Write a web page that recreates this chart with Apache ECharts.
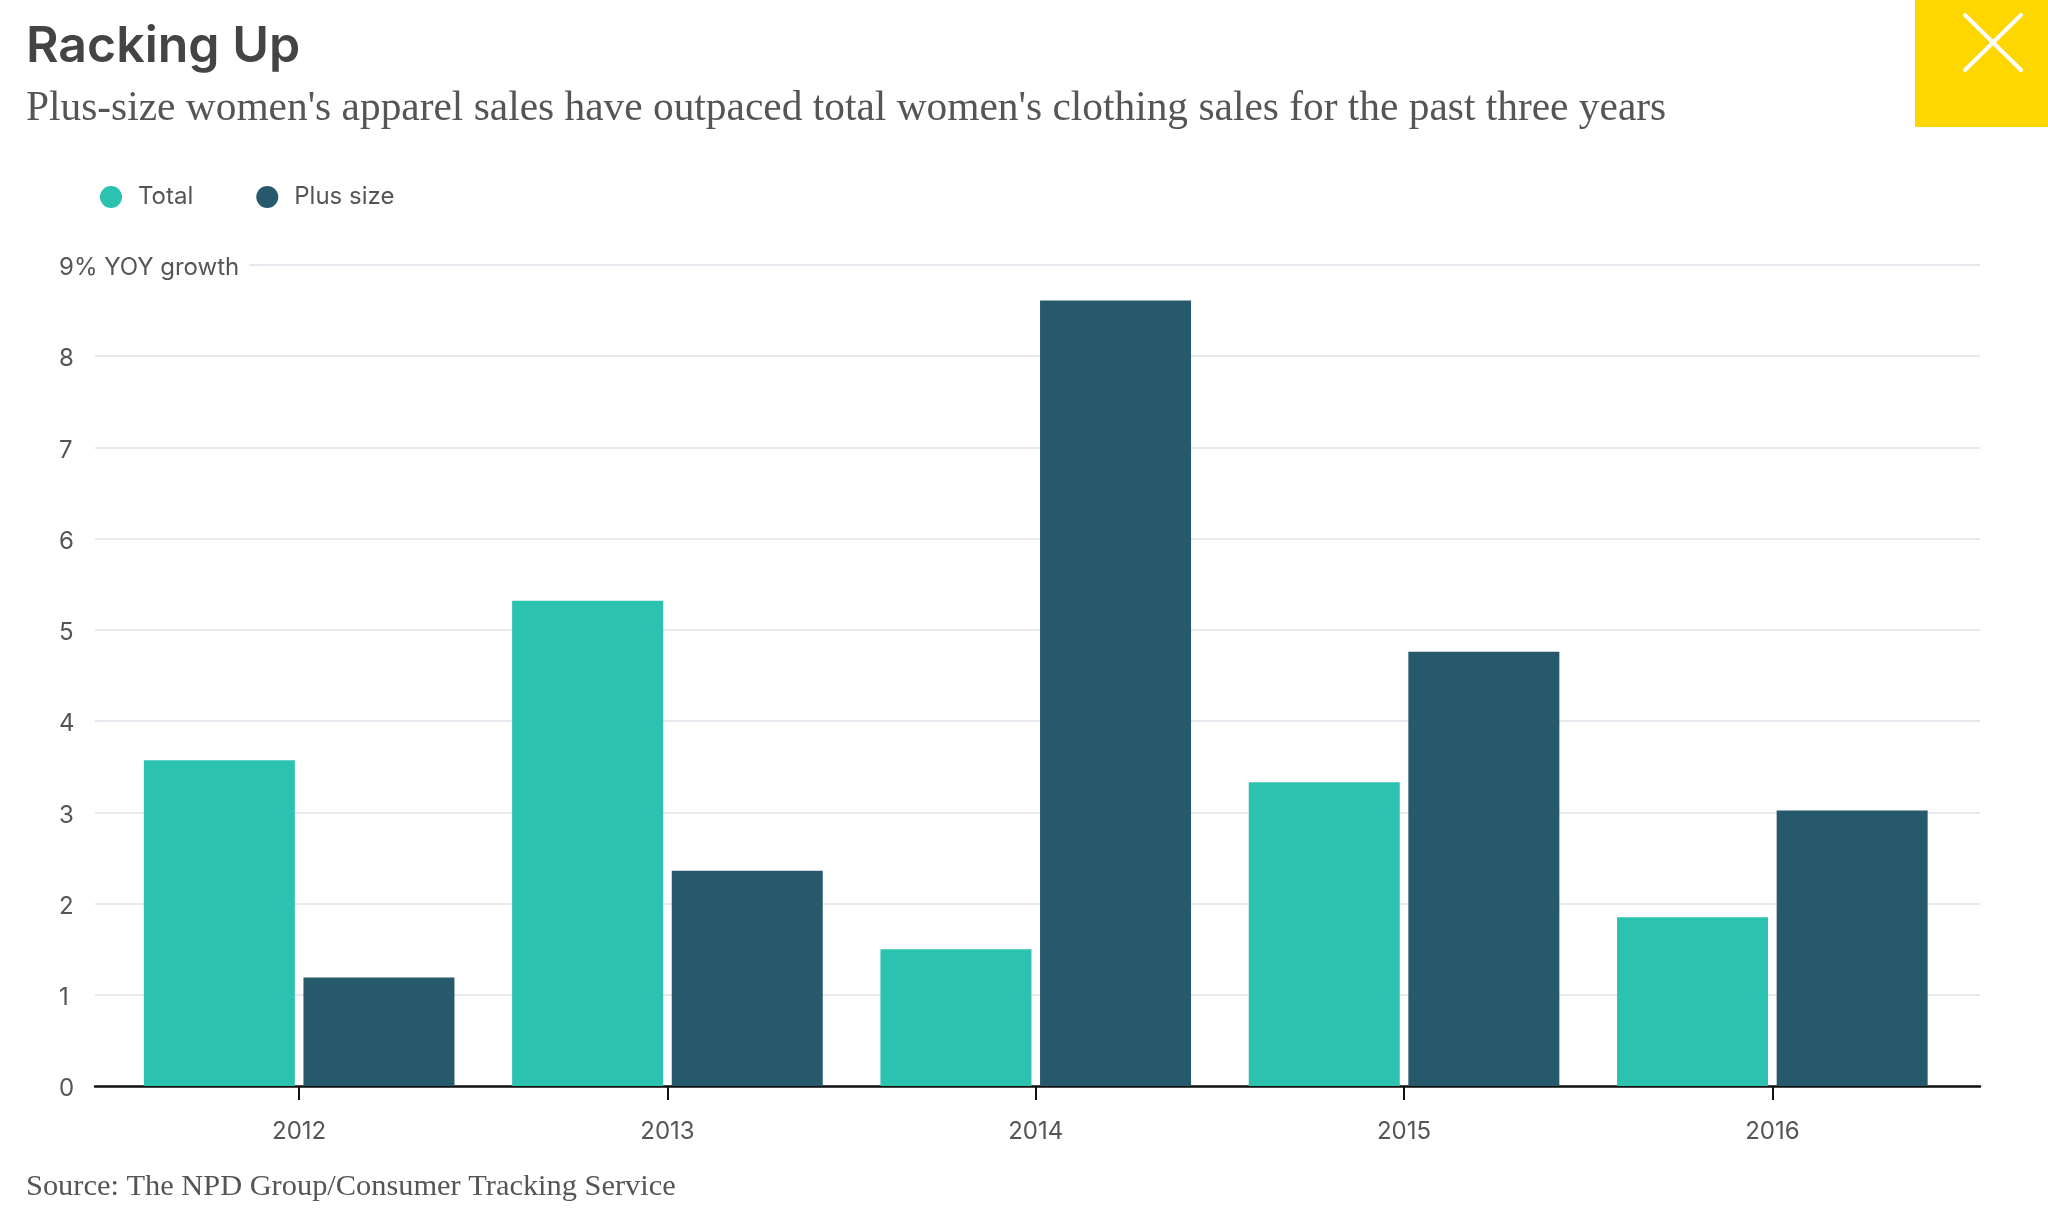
<!DOCTYPE html>
<html>
<head>
<meta charset="utf-8">
<style>html,body{margin:0;padding:0;background:#fff}#chart{width:2048px;height:1218px}</style>
<script src="https://cdn.jsdelivr.net/npm/echarts@6/dist/echarts.min.js"></script>
</head>
<body>
<div id="chart"></div>
<script>
var years = ['2012', '2013', '2014', '2015', '2016'];
var total = [3.57, 5.32, 1.5, 3.33, 1.85];
var plusSize = [1.19, 2.36, 8.61, 4.76, 3.02];
var yTicks = ['0', '1', '2', '3', '4', '5', '6', '7', '8', '9% YOY growth'];

var sansFont = 'Inter';
var serifFont = 'Liberation Serif';
var textColor = '#555';

var myChart = echarts.init(document.getElementById('chart'), null, {renderer: 'canvas'});

myChart.setOption({
  backgroundColor: '#fff',
  animation: false,
  title: [
    {text: 'Racking Up', left: 26, top: 22, padding: 0,
      textStyle: {fontFamily: sansFont, fontWeight: 600, fontSize: 50, color: '#444'}},
    {text: "Plus-size women's apparel sales have outpaced total women's clothing sales for the past three years",
      left: 26, top: 89, padding: 0,
      textStyle: {fontFamily: serifFont, fontWeight: 'normal', fontSize: 41.4, color: '#555'}},
    {text: 'Source: The NPD Group/Consumer Tracking Service', left: 26, top: 1172, padding: 0,
      textStyle: {fontFamily: serifFont, fontWeight: 'normal', fontSize: 30.4, color: '#555'}}
  ],
  legend: {
    left: 100, top: 185, padding: 0,
    icon: 'circle', itemWidth: 22, itemHeight: 22, itemGap: 63,
    textStyle: {fontFamily: sansFont, fontSize: 24, color: textColor, padding: [0, 0, 0, 11]},
    data: ['Total', 'Plus size']
  },
  // outer grid carries the long gridlines and baseline, inner one the bars and year ticks
  grid: [
    {left: 95, right: 68, top: 265, height: 821},
    {left: 115, right: 91.5, top: 265, height: 821}
  ],
  xAxis: [
    {type: 'category', gridIndex: 0, data: years,
      axisLine: {lineStyle: {color: '#111', width: 2.5}},
      axisTick: {show: false}, axisLabel: {show: false}},
    {type: 'category', gridIndex: 1, data: years,
      axisLine: {show: false},
      axisTick: {show: true, alignWithLabel: true, length: 14, lineStyle: {color: '#111', width: 2}},
      axisLabel: {margin: 34, fontFamily: sansFont, fontSize: 24, color: textColor}}
  ],
  yAxis: [
    {type: 'value', gridIndex: 0, min: 0, max: 9, interval: 1,
      axisLine: {show: false}, axisTick: {show: false},
      splitLine: {lineStyle: {color: '#E6E9ED', width: 2}},
      axisLabel: {
        align: 'left', margin: 36, fontFamily: sansFont, fontSize: 24, color: textColor,
        padding: [6, 0, 0, 0],
        formatter: function (val) {
          return val === 9 ? '{top|' + yTicks[val] + '}' : yTicks[val];
        },
        rich: {top: {fontFamily: sansFont, fontSize: 24, color: textColor, backgroundColor: '#fff', padding: [4, 10, 4, 0]}}
      }},
    {type: 'value', gridIndex: 1, min: 0, max: 9, interval: 1, show: false}
  ],
  series: [
    {name: 'Total', type: 'bar', xAxisIndex: 1, yAxisIndex: 1, data: total,
      barWidth: 151, barGap: '5.7%', itemStyle: {color: '#2BC2B0'}},
    {name: 'Plus size', type: 'bar', xAxisIndex: 1, yAxisIndex: 1, data: plusSize,
      barWidth: 151, barGap: '5.7%', itemStyle: {color: '#27596C'}}
  ],
  graphic: [
    {type: 'rect', shape: {x: 1915, y: 0, width: 133, height: 127}, style: {fill: '#FFD700'}},
    {type: 'line', shape: {x1: 1965, y1: 15, x2: 2021, y2: 70}, style: {stroke: '#fff', lineWidth: 4, lineCap: 'round'}},
    {type: 'line', shape: {x1: 2021, y1: 15, x2: 1965, y2: 70}, style: {stroke: '#fff', lineWidth: 4, lineCap: 'round'}}
  ]
});
</script>
</body>
</html>
